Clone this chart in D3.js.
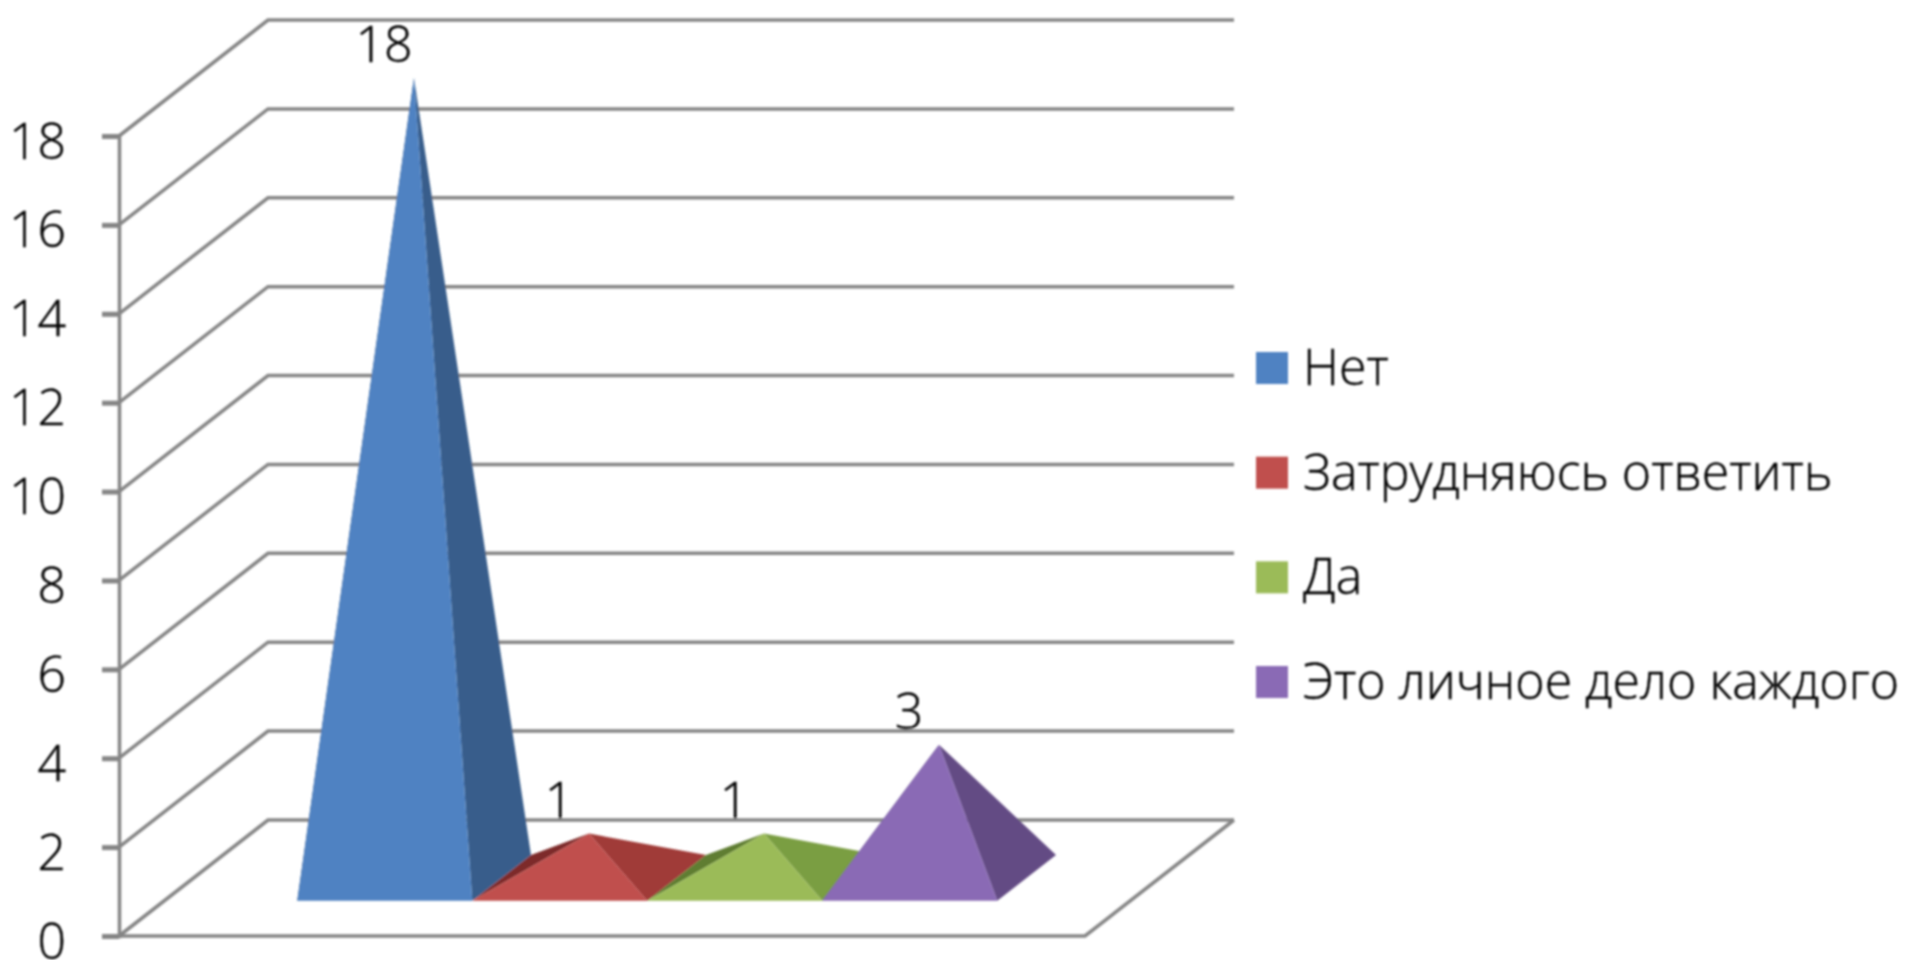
<!DOCTYPE html>
<html>
<head>
<meta charset="utf-8">
<script src="https://cdn.jsdelivr.net/npm/d3@7"></script>
<style>
  html, body { margin: 0; background: #fff; }
  text { font-family: "Open Sans", Lato, sans-serif; fill: #000; stroke: #000; stroke-width: 0.4px; }
</style>
</head>
<body>
<svg width="1915" height="960"></svg>
<script>
const categories = ['Нет', 'Затрудняюсь ответить', 'Да', 'Это личное дело каждого']
const values = [18, 1, 1, 3]
const yTicks = [0, 2, 4, 6, 8, 10, 12, 14, 16, 18]
const frontColors = ['#5082c2', '#c0504d', '#9bbb59', '#8a6bb5']
const sideColors = ['#375d8b', '#a03a38', '#7a9e42', '#634b84']
const leftColors = ['#2c4a70', '#7d2c2a', '#5e7d30', '#4d3a68']

const svg = d3.select('svg')
const root = svg.append('g').attr('filter', 'url(#soft)')

svg.append('defs').append('filter')
    .attr('id', 'soft')
    .append('feGaussianBlur')
    .attr('stdDeviation', 0.9)

// front plane of the 3d box
const x = d3.scaleBand()
    .domain(categories)
    .range([119, 1085])
    .paddingInner(0)
    .paddingOuter(0.76)
const y = d3.scaleLinear().domain([0, 18]).range([936, 136])

// depth 0 is the front of the floor, 1 the back wall
const depthX = d3.scaleLinear().domain([0, 1]).range([0, 149])
const depthY = d3.scaleLinear().domain([0, 1]).range([0, 116])
const project = (px, value, depth) => [px + depthX(depth), y(value) - depthY(depth)]

// walls and floor
const gridColor = '#858585'
const wall = root.append('g')
    .attr('fill', 'none')
    .attr('stroke', gridColor)
    .attr('stroke-width', 3.5)
const [xMin, xMax] = x.range()

wall.selectAll('path.grid').data(yTicks).enter().append('path')
    .attr('class', 'grid')
    .attr('d', d => d3.line()([project(xMin, d, 0), project(xMin, d, 1), project(xMax, d, 1)]))
wall.append('path')
    .attr('d', d3.line()([project(xMin, 0, 0), project(xMax, 0, 0), project(xMax, 0, 1)]))

// value axis
const axis = root.append('g')
    .attr('transform', `translate(${xMin},0)`)
    .call(d3.axisLeft(y).tickValues(yTicks).tickSize(17).tickPadding(36))
axis.select('.domain').attr('stroke', gridColor).attr('stroke-width', 3.5)
axis.selectAll('.tick line').attr('stroke', gridColor).attr('stroke-width', 5)
axis.selectAll('.tick text')
    .style('font-family', '"Open Sans", Lato, sans-serif')
    .attr('font-size', 50)
    .attr('font-weight', 300)
    .attr('dy', '0.44em')

// pyramids, painted left to right
const frontDepth = 0.304
const backDepth = 0.698
const pyramids = root.selectAll('g.pyramid').data(categories).enter().append('g')
    .attr('class', 'pyramid')

const corners = c => {
    const left = x(c)
    const right = left + x.bandwidth()
    return {
        frontLeft: project(left, 0, frontDepth),
        frontRight: project(right, 0, frontDepth),
        backLeft: project(left, 0, backDepth),
        backRight: project(right, 0, backDepth),
        apex: project(left + x.bandwidth() / 2, values[categories.indexOf(c)], 0.5)
    }
}
const face = pts => d3.line()(pts) + 'Z'

pyramids.append('path')
    .attr('fill', (d, i) => leftColors[i])
    .attr('d', d => { const k = corners(d); return face([k.frontLeft, k.backLeft, k.apex]) })
pyramids.append('path')
    .attr('fill', (d, i) => sideColors[i])
    .attr('d', d => { const k = corners(d); return face([k.frontRight, k.backRight, k.apex]) })
pyramids.append('path')
    .attr('fill', (d, i) => frontColors[i])
    .attr('d', d => { const k = corners(d); return face([k.frontLeft, k.frontRight, k.apex]) })

// data labels
root.selectAll('text.value').data(categories).enter().append('text')
    .attr('class', 'value')
    .attr('x', d => corners(d).apex[0] - 30)
    .attr('y', d => corners(d).apex[1] - 16)
    .attr('text-anchor', 'middle')
    .attr('font-size', 50)
    .attr('font-weight', 300)
    .text((d, i) => values[i])

// legend
const legendY = d3.scalePoint().domain(categories).range([368, 682])
const legend = root.selectAll('g.legend').data(categories).enter().append('g')
    .attr('class', 'legend')
    .attr('transform', d => `translate(1256,${legendY(d)})`)
legend.append('rect')
    .attr('y', -16)
    .attr('width', 32)
    .attr('height', 32)
    .attr('fill', (d, i) => frontColors[i])
legend.append('text')
    .attr('x', 47)
    .attr('y', 17)
    .attr('font-size', 50)
    .attr('font-weight', 300)
    .text(d => d)
</script>
</body>
</html>
